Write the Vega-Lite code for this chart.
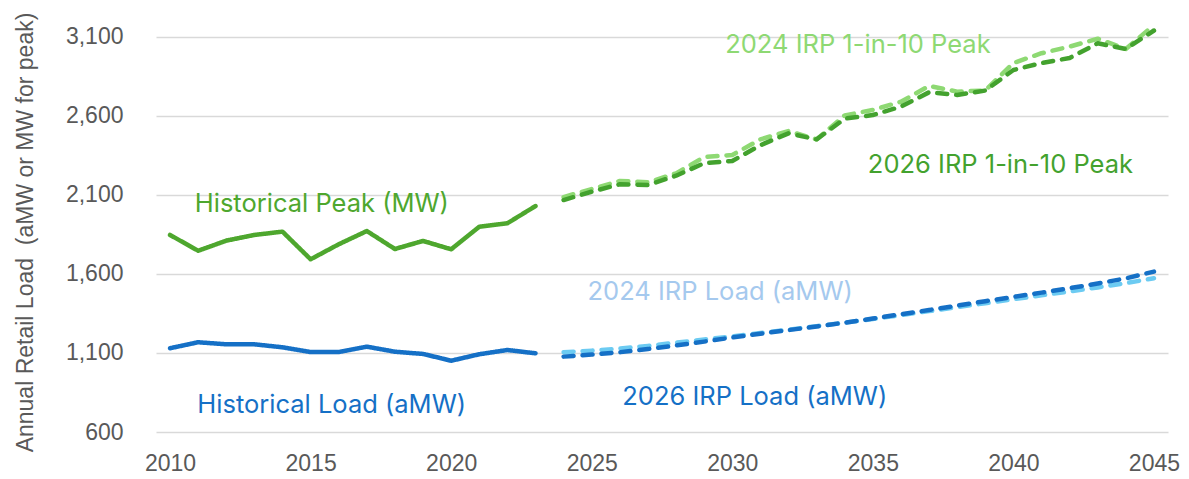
{
  "$schema": "https://vega.github.io/schema/vega-lite/v6.json",
  "width": 1012,
  "height": 432,
  "autosize": {"type": "none"},
  "padding": {"left": 156, "top": 0, "right": 21, "bottom": 47},
  "background": "white",
  "config": {"view": {"stroke": null}},
  "datasets": {
    "lines": [
      {"year": 2010, "value": 1847, "series": "Historical Peak"},
      {"year": 2011, "value": 1747, "series": "Historical Peak"},
      {"year": 2012, "value": 1811, "series": "Historical Peak"},
      {"year": 2013, "value": 1847, "series": "Historical Peak"},
      {"year": 2014, "value": 1868, "series": "Historical Peak"},
      {"year": 2015, "value": 1693, "series": "Historical Peak"},
      {"year": 2016, "value": 1788, "series": "Historical Peak"},
      {"year": 2017, "value": 1872, "series": "Historical Peak"},
      {"year": 2018, "value": 1758, "series": "Historical Peak"},
      {"year": 2019, "value": 1809, "series": "Historical Peak"},
      {"year": 2020, "value": 1756, "series": "Historical Peak"},
      {"year": 2021, "value": 1899, "series": "Historical Peak"},
      {"year": 2022, "value": 1921, "series": "Historical Peak"},
      {"year": 2023, "value": 2030, "series": "Historical Peak"},
      {"year": 2010, "value": 1130, "series": "Historical Load"},
      {"year": 2011, "value": 1168, "series": "Historical Load"},
      {"year": 2012, "value": 1155, "series": "Historical Load"},
      {"year": 2013, "value": 1155, "series": "Historical Load"},
      {"year": 2014, "value": 1136, "series": "Historical Load"},
      {"year": 2015, "value": 1106, "series": "Historical Load"},
      {"year": 2016, "value": 1106, "series": "Historical Load"},
      {"year": 2017, "value": 1140, "series": "Historical Load"},
      {"year": 2018, "value": 1108, "series": "Historical Load"},
      {"year": 2019, "value": 1094, "series": "Historical Load"},
      {"year": 2020, "value": 1051, "series": "Historical Load"},
      {"year": 2021, "value": 1092, "series": "Historical Load"},
      {"year": 2022, "value": 1119, "series": "Historical Load"},
      {"year": 2023, "value": 1098, "series": "Historical Load"},
      {"year": 2024, "value": 2087, "series": "2024 IRP Peak"},
      {"year": 2025, "value": 2138, "series": "2024 IRP Peak"},
      {"year": 2026, "value": 2189, "series": "2024 IRP Peak"},
      {"year": 2027, "value": 2180, "series": "2024 IRP Peak"},
      {"year": 2028, "value": 2237, "series": "2024 IRP Peak"},
      {"year": 2029, "value": 2340, "series": "2024 IRP Peak"},
      {"year": 2030, "value": 2353, "series": "2024 IRP Peak"},
      {"year": 2031, "value": 2452, "series": "2024 IRP Peak"},
      {"year": 2032, "value": 2505, "series": "2024 IRP Peak"},
      {"year": 2033, "value": 2452, "series": "2024 IRP Peak"},
      {"year": 2034, "value": 2604, "series": "2024 IRP Peak"},
      {"year": 2035, "value": 2638, "series": "2024 IRP Peak"},
      {"year": 2036, "value": 2690, "series": "2024 IRP Peak"},
      {"year": 2037, "value": 2790, "series": "2024 IRP Peak"},
      {"year": 2038, "value": 2754, "series": "2024 IRP Peak"},
      {"year": 2039, "value": 2761, "series": "2024 IRP Peak"},
      {"year": 2040, "value": 2935, "series": "2024 IRP Peak"},
      {"year": 2041, "value": 2997, "series": "2024 IRP Peak"},
      {"year": 2042, "value": 3039, "series": "2024 IRP Peak"},
      {"year": 2043, "value": 3089, "series": "2024 IRP Peak"},
      {"year": 2044, "value": 3024, "series": "2024 IRP Peak"},
      {"year": 2045, "value": 3176, "series": "2024 IRP Peak"},
      {"year": 2024, "value": 2068, "series": "2026 IRP Peak"},
      {"year": 2025, "value": 2121, "series": "2026 IRP Peak"},
      {"year": 2026, "value": 2168, "series": "2026 IRP Peak"},
      {"year": 2027, "value": 2163, "series": "2026 IRP Peak"},
      {"year": 2028, "value": 2222, "series": "2026 IRP Peak"},
      {"year": 2029, "value": 2301, "series": "2026 IRP Peak"},
      {"year": 2030, "value": 2315, "series": "2026 IRP Peak"},
      {"year": 2031, "value": 2415, "series": "2026 IRP Peak"},
      {"year": 2032, "value": 2490, "series": "2026 IRP Peak"},
      {"year": 2033, "value": 2452, "series": "2026 IRP Peak"},
      {"year": 2034, "value": 2583, "series": "2026 IRP Peak"},
      {"year": 2035, "value": 2606, "series": "2026 IRP Peak"},
      {"year": 2036, "value": 2659, "series": "2026 IRP Peak"},
      {"year": 2037, "value": 2750, "series": "2026 IRP Peak"},
      {"year": 2038, "value": 2733, "series": "2026 IRP Peak"},
      {"year": 2039, "value": 2761, "series": "2026 IRP Peak"},
      {"year": 2040, "value": 2891, "series": "2026 IRP Peak"},
      {"year": 2041, "value": 2935, "series": "2026 IRP Peak"},
      {"year": 2042, "value": 2967, "series": "2026 IRP Peak"},
      {"year": 2043, "value": 3060, "series": "2026 IRP Peak"},
      {"year": 2044, "value": 3024, "series": "2026 IRP Peak"},
      {"year": 2045, "value": 3141, "series": "2026 IRP Peak"},
      {"year": 2024, "value": 1105, "series": "2024 IRP Load"},
      {"year": 2025, "value": 1115, "series": "2024 IRP Load"},
      {"year": 2026, "value": 1128, "series": "2024 IRP Load"},
      {"year": 2027, "value": 1145, "series": "2024 IRP Load"},
      {"year": 2028, "value": 1165, "series": "2024 IRP Load"},
      {"year": 2029, "value": 1185, "series": "2024 IRP Load"},
      {"year": 2030, "value": 1205, "series": "2024 IRP Load"},
      {"year": 2031, "value": 1227, "series": "2024 IRP Load"},
      {"year": 2032, "value": 1248, "series": "2024 IRP Load"},
      {"year": 2033, "value": 1270, "series": "2024 IRP Load"},
      {"year": 2034, "value": 1292, "series": "2024 IRP Load"},
      {"year": 2035, "value": 1315, "series": "2024 IRP Load"},
      {"year": 2036, "value": 1340, "series": "2024 IRP Load"},
      {"year": 2037, "value": 1365, "series": "2024 IRP Load"},
      {"year": 2038, "value": 1390, "series": "2024 IRP Load"},
      {"year": 2039, "value": 1415, "series": "2024 IRP Load"},
      {"year": 2040, "value": 1440, "series": "2024 IRP Load"},
      {"year": 2041, "value": 1465, "series": "2024 IRP Load"},
      {"year": 2042, "value": 1490, "series": "2024 IRP Load"},
      {"year": 2043, "value": 1515, "series": "2024 IRP Load"},
      {"year": 2044, "value": 1542, "series": "2024 IRP Load"},
      {"year": 2045, "value": 1573, "series": "2024 IRP Load"},
      {"year": 2024, "value": 1077, "series": "2026 IRP Load"},
      {"year": 2025, "value": 1090, "series": "2026 IRP Load"},
      {"year": 2026, "value": 1105, "series": "2026 IRP Load"},
      {"year": 2027, "value": 1125, "series": "2026 IRP Load"},
      {"year": 2028, "value": 1148, "series": "2026 IRP Load"},
      {"year": 2029, "value": 1172, "series": "2026 IRP Load"},
      {"year": 2030, "value": 1198, "series": "2026 IRP Load"},
      {"year": 2031, "value": 1222, "series": "2026 IRP Load"},
      {"year": 2032, "value": 1245, "series": "2026 IRP Load"},
      {"year": 2033, "value": 1268, "series": "2026 IRP Load"},
      {"year": 2034, "value": 1292, "series": "2026 IRP Load"},
      {"year": 2035, "value": 1318, "series": "2026 IRP Load"},
      {"year": 2036, "value": 1345, "series": "2026 IRP Load"},
      {"year": 2037, "value": 1372, "series": "2026 IRP Load"},
      {"year": 2038, "value": 1400, "series": "2026 IRP Load"},
      {"year": 2039, "value": 1428, "series": "2026 IRP Load"},
      {"year": 2040, "value": 1455, "series": "2026 IRP Load"},
      {"year": 2041, "value": 1482, "series": "2026 IRP Load"},
      {"year": 2042, "value": 1510, "series": "2026 IRP Load"},
      {"year": 2043, "value": 1540, "series": "2026 IRP Load"},
      {"year": 2044, "value": 1572, "series": "2026 IRP Load"},
      {"year": 2045, "value": 1615, "series": "2026 IRP Load"}
    ],
    "labels": [
      {"year": 2015.4, "value": 2043, "text": "Historical Peak (MW)", "series": "Historical Peak"},
      {"year": 2015.75, "value": 771, "text": "Historical Load (aMW)", "series": "Historical Load"},
      {"year": 2034.47, "value": 3049, "text": "2024 IRP 1-in-10 Peak", "series": "2024 IRP Peak"},
      {"year": 2039.54, "value": 2290, "text": "2026 IRP 1-in-10 Peak", "series": "2026 IRP Peak"},
      {"year": 2029.57, "value": 1486, "text": "2024 IRP Load (aMW)", "series": "2024 IRP Load"},
      {"year": 2030.8, "value": 821, "text": "2026 IRP Load (aMW)", "series": "2026 IRP Load"}
    ]
  },
  "layer": [
    {
      "data": {"name": "lines"},
      "mark": {"type": "line", "strokeWidth": 4.5, "strokeCap": "round", "strokeJoin": "round"},
      "encoding": {
        "x": {
          "field": "year", "type": "quantitative",
          "scale": {"domain": [2009.5, 2045.5], "nice": false, "zero": false},
          "axis": {
            "values": [2010, 2015, 2020, 2025, 2030, 2035, 2040, 2045],
            "format": "d", "title": null, "grid": false, "domain": false, "ticks": false, "tickSize": 0,
            "labelPadding": 20, "labelFont": "Liberation Sans", "labelFontSize": 23, "labelColor": "#595959"
          }
        },
        "y": {
          "field": "value", "type": "quantitative",
          "scale": {"domain": [600, 3334], "nice": false, "zero": false},
          "axis": {
            "values": [600, 1100, 1600, 2100, 2600, 3100],
            "format": ",d", "grid": true, "gridColor": "#d9d9d9", "gridWidth": 1.3,
            "domain": false, "ticks": false, "tickSize": 0, "labelPadding": 33,
            "labelFont": "Liberation Sans", "labelFontSize": 23, "labelColor": "#595959",
            "title": "Annual Retail Load\u00a0 (aMW or MW for peak)",
            "titleFont": "Liberation Sans", "titleFontSize": 23, "titleFontWeight": "normal", "titleColor": "#595959",
            "titleAngle": -90, "titleX": -131, "titleY": 232, "titleAlign": "center", "titleBaseline": "middle"
          }
        },
        "color": {
          "field": "series", "type": "nominal", "legend": null,
          "scale": {
            "domain": ["Historical Peak", "Historical Load", "2024 IRP Peak", "2026 IRP Peak", "2024 IRP Load", "2026 IRP Load"],
            "range": ["#4ea72e", "#1570c6", "#8ed973", "#43a22e", "#6ccbf2", "#1570c6"]
          }
        },
        "strokeDash": {
          "field": "series", "type": "nominal", "legend": null,
          "scale": {
            "domain": ["Historical Peak", "Historical Load", "2024 IRP Peak", "2026 IRP Peak", "2024 IRP Load", "2026 IRP Load"],
            "range": [[1, 0], [1, 0], [10, 9], [10, 9], [10, 9], [10, 9]]
          }
        },
        "order": {"field": "year", "type": "quantitative"}
      }
    },
    {
      "data": {"name": "labels"},
      "mark": {"type": "text", "font": "Inter", "fontSize": 25.5, "align": "center", "baseline": "middle"},
      "encoding": {
        "x": {"field": "year", "type": "quantitative"},
        "y": {"field": "value", "type": "quantitative"},
        "text": {"field": "text"},
        "color": {
          "field": "series", "type": "nominal", "legend": null,
          "scale": {
            "domain": ["Historical Peak", "Historical Load", "2024 IRP Peak", "2026 IRP Peak", "2024 IRP Load", "2026 IRP Load"],
            "range": ["#4ea72e", "#1570c6", "#8ed973", "#43a22e", "#a5c9ee", "#1570c6"]
          }
        }
      }
    }
  ],
  "resolve": {"scale": {"color": "independent"}}
}
